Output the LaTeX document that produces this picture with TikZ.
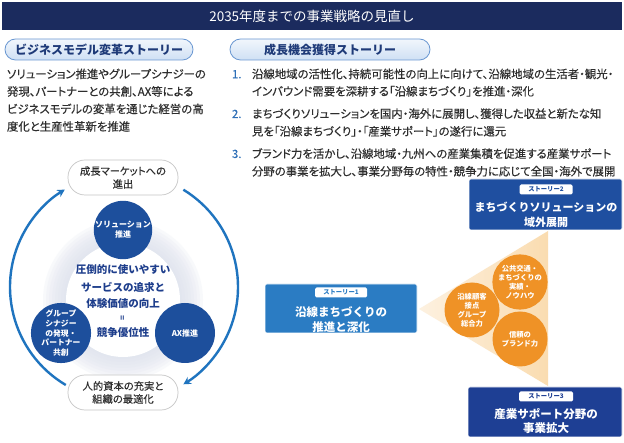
\documentclass[tikz,border=0pt]{standalone}
\usepackage{fontspec}
\setmainfont{Noto Sans CJK JP}
\newfontfamily\bodyf[RawFeature={+palt}, FakeBold=0.25]{Noto Sans CJK JP}
\usetikzlibrary{arrows.meta,shapes.geometric}
\definecolor{navy}{HTML}{1B2B5E}
\definecolor{pillborder}{HTML}{6B98D2}
\definecolor{pilltop}{HTML}{F1F6FC}
\definecolor{pillbot}{HTML}{CFE0F4}
\definecolor{pilltext}{HTML}{1E3A78}
\definecolor{bodytext}{HTML}{2E2E2E}
\definecolor{numblue}{HTML}{2E6FB7}
\definecolor{arcblue}{HTML}{1F74BF}
\definecolor{dcircle}{HTML}{1D4F9C}
\definecolor{innertext}{HTML}{1E3E8C}
\definecolor{storyA}{HTML}{2B7CC3}
\definecolor{storyB}{HTML}{1F4FA0}
\definecolor{storyC}{HTML}{1E3F94}
\definecolor{trileft}{HTML}{FDF1E0}
\definecolor{triright}{HTML}{FADCB0}
\definecolor{orangec}{HTML}{EF9226}
\definecolor{glowc}{HTML}{DDE2EE}
\tikzset{
  titlebar/.style={fill=navy, text=white, font=\fontsize{13.5}{16}\selectfont, minimum height=28},
  hpill/.style={draw=pillborder, line width=0.8pt, top color=pilltop, bottom color=pillbot,
    rounded corners=10.5pt, text=pilltext, font=\bfseries\fontsize{12}{14}\selectfont, minimum height=21},
  bodyline/.style={anchor=base west, text=bodytext, font=\bodyf\fontsize{11.4}{14}\selectfont},
  numline/.style={anchor=base west, text=numblue, font=\bodyf\fontsize{11.4}{14}\selectfont},
  gpill/.style={draw=gray!45, line width=0.7pt, fill=white, rounded corners=17pt,
    minimum width=110, minimum height=35, align=center, text=bodytext,
    font=\bodyf\fontsize{10.3}{13}\selectfont},
  dcirc/.style={circle, fill=dcircle, text=white, align=center,
    font=\bfseries\fontsize{8}{10}\selectfont},
  inner/.style={text=innertext, font=\bfseries\fontsize{10.5}{13}\selectfont},
  arcline/.style={draw=arcblue, line width=2.4pt, -{Stealth[length=7.5pt,width=8pt]}},
  ocirc/.style={circle, fill=orangec, text=white, align=center, minimum size=55,
    font=\bfseries\fontsize{7.3}{9}\selectfont},
  storybox/.style={rounded corners=2pt, draw=white, line width=0.6pt},
  storylabel/.style={fill=white, rounded corners=1.5pt, minimum height=10,
    font=\bfseries\fontsize{6.3}{7}\selectfont},
  storytext/.style={text=white, align=center, font=\bfseries\fontsize{11.5}{14.5}\selectfont}
}
\begin{document}
\begin{tikzpicture}[x=1pt,y=-1pt, every node/.style={inner sep=0pt, outer sep=0pt}]
\useasboundingbox (0,0) rectangle (624,443);
\fill[white] (0,0) rectangle (624,443);

% title
\node[titlebar, minimum width=620] (title) at (312,16.5) {2035年度までの事業戦略の見直し};

% header pills
\node[hpill, minimum width=188] (hp1) at (99,49.5) {ビジネスモデル変革ストーリー};
\node[hpill, minimum width=200] (hp2) at (330,49.5) {成長機会獲得ストーリー};

% left paragraph
\node[bodyline] (p1) at (7,78.3) {ソリューション推進やグループシナジーの};
\node[bodyline] (p2) at (7,95.8) {発現、パートナーとの共創、AX等による};
\node[bodyline] (p3) at (7,113.3) {ビジネスモデルの変革を通じた経営の高};
\node[bodyline] (p4) at (7,130.8) {度化と生産性革新を推進};

% right list
\node[numline] (n1) at (232,78.3) {1.};
\node[bodyline] (l1a) at (252,78.3) {沿線地域の活性化、持続可能性の向上に向けて、沿線地域の生活者・観光・};
\node[bodyline] (l1b) at (252,95.6) {インバウンド需要を深耕する「沿線まちづくり」を推進・深化};
\node[numline] (n2) at (232,118) {2.};
\node[bodyline] (l2a) at (252,118) {まちづくりソリューションを国内・海外に展開し、獲得した収益と新たな知};
\node[bodyline] (l2b) at (252,135.6) {見を「沿線まちづくり」・「産業サポート」の遂行に還元};
\node[numline] (n3) at (232,158) {3.};
\node[bodyline] (l3a) at (252,158) {ブランド力を活かし、沿線地域・九州への産業集積を促進する産業サポート};
\node[bodyline] (l3b) at (252,175.6) {分野の事業を拡大し、事業分野毎の特性・競争力に応じて全国・海外で展開};

% ---------- left cycle diagram ----------
\coordinate (c) at (124,287);
\coordinate (g) at (123,300);
\foreach \r in {80,77,...,59} \fill[glowc, opacity=0.18] (g) circle (\r);
\fill[white] (g) circle (57);

\node[dcirc, minimum size=58] (sol) at (123,230) {ソリューション\\推進};
\node[dcirc, minimum size=58, font=\bfseries\fontsize{7.8}{9.6}\selectfont] (grp) at (61,333) {グループ\\シナジー\\の発現・\\パートナー\\共創};
\node[dcirc, minimum size=60] (ax) at (185,333) {AX推進};

\node[inner] (t1) at (123,270) {圧倒的に使いやすい};
\node[inner] (t2) at (123,287) {サービスの追求と};
\node[inner] (t3) at (123,304) {体験価値の向上};
\node[inner] (t4) at (123,318.5) {\rotatebox{90}{\fontsize{8}{8}\selectfont =}};
\node[inner] (t5) at (123,333) {競争優位性};

\node[gpill] (top) at (123,177.5) {成長マーケットへの\\進出};
\node[gpill] (bot) at (123,392.5) {人的資本の充実と\\組織の最適化};

\coordinate (la) at ([shift={(120.7:114)}]c);
\coordinate (ra) at ([shift={(-58.6:114)}]c);
\draw[arcline] (la) arc[start angle=120.7, end angle=238.7, radius=114];
\draw[arcline] (ra) arc[start angle=-58.6, end angle=58.6, radius=114];

% ---------- right diagram ----------
\coordinate (ta) at (419,309);
\coordinate (tb) at (548,231);
\coordinate (tc) at (548,386);
\shade[left color=trileft, right color=triright] (ta) -- (tb) -- (tc) -- cycle;

\node[ocirc] (o1) at (472,310) {沿線顧客\\接点\\グループ\\総合力};
\node[ocirc] (o2) at (520,282) {公共交通・\\まちづくりの\\実績・\\ノウハウ};
\node[ocirc] (o3) at (520,339) {信頼の\\ブランド力};

\node[storybox, fill=storyA, minimum width=152, minimum height=49] (s1) at (341,308.5) {};
\node[storylabel, text=storyA, minimum width=52] (s1l) at (341,292.5) {ストーリー1};
\node[storytext] (s1t) at (341,319.5) {沿線まちづくりの\\推進と深化};

\node[storybox, fill=storyB, minimum width=153, minimum height=51] (s2) at (545.5,204.5) {};
\node[storylabel, text=storyB, minimum width=53] (s2l) at (546,189.5) {ストーリー2};
\node[storytext, font=\bfseries\fontsize{11}{14.5}\selectfont] (s2t) at (546,215) {まちづくりソリューションの\\域外展開};

\node[storybox, fill=storyC, minimum width=154, minimum height=50] (s3) at (545,412) {};
\node[storylabel, text=storyC, minimum width=54] (s3l) at (546,396.5) {ストーリー3};
\node[storytext] (s3t) at (546,421) {産業サポート分野の\\事業拡大};
\end{tikzpicture}
\end{document}
